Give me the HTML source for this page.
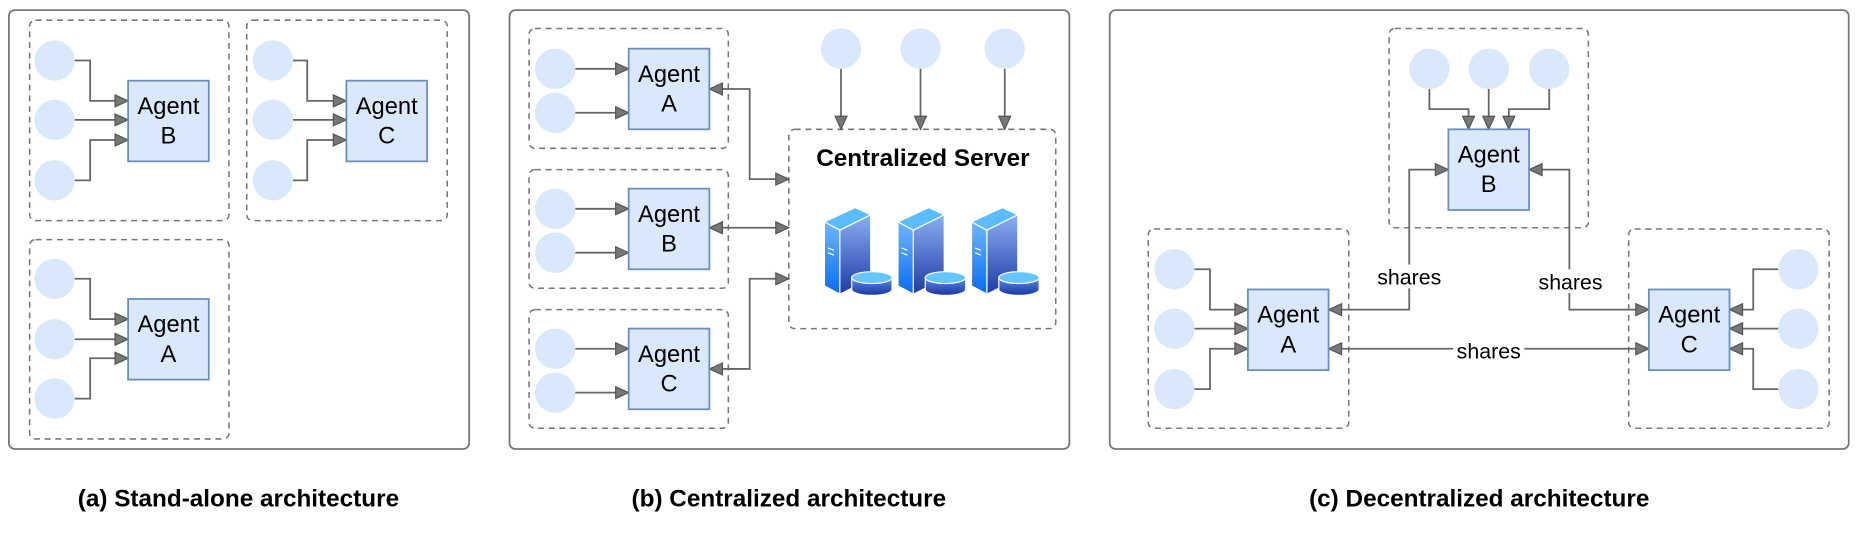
<!DOCTYPE html>
<html><head><meta charset="utf-8"><style>html,body{margin:0;padding:0;background:#fff}svg{display:block}</style></head>
<body>
<svg width="1860" height="538" viewBox="0 0 1568 453.5" xmlns="http://www.w3.org/2000/svg" font-family="Liberation Sans, Arial, sans-serif">
<defs>
<marker id="ah" markerUnits="userSpaceOnUse" markerWidth="14" markerHeight="12" refX="12" refY="6" orient="auto-start-reverse">
<path d="M1,1 L12,6 L1,11 Z" fill="#777" stroke="#555" stroke-width="1"/>
</marker>
<linearGradient id="gf" x1="0" y1="0" x2="0" y2="1"><stop offset="0" stop-color="#6fb6ff"/><stop offset="1" stop-color="#0a6cf0"/></linearGradient>
<linearGradient id="gs" x1="0" y1="0" x2="0" y2="1"><stop offset="0" stop-color="#8ab0f0"/><stop offset="1" stop-color="#1e3aa8"/></linearGradient>
<linearGradient id="gd" x1="0" y1="0" x2="0" y2="1"><stop offset="0" stop-color="#5a8ee8"/><stop offset="1" stop-color="#1b34a0"/></linearGradient>
<g id="srv" stroke="#fff" stroke-width="1">
<polygon points="695,187 708,194 708,248 695,241" fill="url(#gf)"/>
<polygon points="708,194 734,181 734,235 708,248" fill="url(#gs)"/>
<polygon points="695,187 721,175 734,181 708,194" fill="#5bbcff"/>
<line x1="698" y1="209" x2="703" y2="211"/><line x1="698" y1="213" x2="703" y2="215"/>
<path d="M718,234 L718,244 A17,5 0 0 0 752,244 L752,234 Z" fill="url(#gd)"/>
<ellipse cx="735" cy="234" rx="17" ry="5" fill="#66c4ff"/>
</g>
</defs>
<g fill="none" stroke="#777" stroke-width="1.5">
<rect x="7.5" y="8.5" width="388" height="370" rx="5"/>
<rect x="429.5" y="8.5" width="472" height="370" rx="5"/>
<rect x="935.5" y="8.5" width="623" height="370" rx="5"/>
</g>
<g fill="none" stroke="#777" stroke-width="1.3" stroke-dasharray="5,4">
<rect x="25" y="17" width="168" height="169" rx="5"/>
<rect x="208" y="17" width="169" height="169" rx="5"/>
<rect x="25" y="202" width="168" height="168" rx="5"/>
<rect x="446" y="24" width="168" height="101" rx="5"/>
<rect x="446" y="143" width="168" height="100" rx="5"/>
<rect x="446" y="261" width="168" height="100" rx="5"/>
<rect x="665" y="109" width="225" height="168" rx="5"/>
<rect x="1171" y="24" width="168" height="168" rx="5"/>
<rect x="968" y="193" width="169" height="168" rx="5"/>
<rect x="1373" y="193" width="169" height="168" rx="5"/>
</g>
<g fill="#dae8fc">
<circle cx="46" cy="51" r="17"/><circle cx="46" cy="101" r="17"/><circle cx="46" cy="152" r="17"/>
<circle cx="230" cy="51" r="17"/><circle cx="230" cy="101" r="17"/><circle cx="230" cy="152" r="17"/>
<circle cx="46" cy="235" r="17"/><circle cx="46" cy="286" r="17"/><circle cx="46" cy="336" r="17"/>
<circle cx="468" cy="58" r="17"/><circle cx="468" cy="95" r="17"/>
<circle cx="468" cy="176" r="17"/><circle cx="468" cy="213" r="17"/>
<circle cx="468" cy="294" r="17"/><circle cx="468" cy="331" r="17"/>
<circle cx="709" cy="41" r="17"/><circle cx="776" cy="41" r="17"/><circle cx="847" cy="41" r="17"/>
<circle cx="1205" cy="58" r="17"/><circle cx="1255" cy="58" r="17"/><circle cx="1306" cy="58" r="17"/>
<circle cx="990" cy="227" r="17"/><circle cx="990" cy="277" r="17"/><circle cx="990" cy="328" r="17"/>
<circle cx="1516" cy="227" r="17"/><circle cx="1516" cy="277" r="17"/><circle cx="1516" cy="328" r="17"/>
</g>
<g fill="none" stroke="#666" stroke-width="1.5" marker-end="url(#ah)">
<path d="M63,51 H76 V85 H108"/><path d="M63,101 H108"/><path d="M63,152 H76 V118 H108"/>
<path d="M247,51 H259 V85 H292"/><path d="M247,101 H292"/><path d="M247,152 H259 V118 H292"/>
<path d="M63,235 H76 V269 H108"/><path d="M63,286 H108"/><path d="M63,336 H76 V302 H108"/>
<path d="M485,58 H530"/><path d="M485,95 H530"/>
<path d="M485,176 H530"/><path d="M485,213 H530"/>
<path d="M485,294 H530"/><path d="M485,331 H530"/>
<path d="M709,58 V109"/><path d="M776,58 V109"/><path d="M847,58 V109"/>
<path d="M1205,75 V92 H1238 V109"/><path d="M1255,75 V109"/><path d="M1306,75 V92 H1272 V109"/>
<path d="M1007,227 H1020 V261 H1052"/><path d="M1007,277 H1052"/><path d="M1007,328 H1020 V294 H1052"/>
<path d="M1499,227 H1478 V261 H1458"/><path d="M1499,277 H1458"/><path d="M1499,328 H1478 V294 H1458"/>
</g>
<g fill="none" stroke="#666" stroke-width="1.5" marker-end="url(#ah)" marker-start="url(#ah)">
<path d="M598,75 H632 V151 H665"/><path d="M598,192 H665"/><path d="M598,311 H632 V235 H665"/>
<path d="M1120,261 H1188 V143 H1221"/><path d="M1289,143 H1323 V261 H1390"/><path d="M1120,294 H1390"/>
</g>
<g fill="#dae8fc" stroke="#6c8ebf" stroke-width="1.5">
<rect x="108" y="68" width="68" height="68"/><rect x="292" y="68" width="68" height="68"/><rect x="108" y="252" width="68" height="68"/>
<rect x="530" y="41" width="68" height="68"/><rect x="530" y="159" width="68" height="68"/><rect x="530" y="277" width="68" height="68"/>
<rect x="1221" y="109" width="68" height="68"/><rect x="1052" y="244" width="68" height="68"/><rect x="1390" y="244" width="68" height="68"/>
</g>
<g font-size="20" text-anchor="middle" fill="#000">
<text x="142" y="96">Agent</text><text x="142" y="121">B</text>
<text x="326" y="96">Agent</text><text x="326" y="121">C</text>
<text x="142" y="280">Agent</text><text x="142" y="305">A</text>
<text x="564" y="69">Agent</text><text x="564" y="94">A</text>
<text x="564" y="187">Agent</text><text x="564" y="212">B</text>
<text x="564" y="305">Agent</text><text x="564" y="330">C</text>
<text x="1255" y="137">Agent</text><text x="1255" y="162">B</text>
<text x="1086" y="272">Agent</text><text x="1086" y="297">A</text>
<text x="1424" y="272">Agent</text><text x="1424" y="297">C</text>
</g>
<g font-size="18" text-anchor="middle">
<rect x="1158" y="223" width="60" height="20" fill="#fff"/><text x="1188" y="240">shares</text>
<rect x="1293" y="227" width="60" height="20" fill="#fff"/><text x="1324" y="244">shares</text>
<rect x="1225" y="285" width="60" height="20" fill="#fff"/><text x="1255" y="302">shares</text>
</g>
<text x="778" y="140" font-size="20.5" font-weight="bold" text-anchor="middle">Centralized Server</text>
<use href="#srv"/><use href="#srv" x="62"/><use href="#srv" x="124"/>
<g font-size="20.5" font-weight="bold" text-anchor="middle">
<text x="201" y="427">(a) Stand-alone architecture</text>
<text x="665" y="427">(b) Centralized architecture</text>
<text x="1247" y="427">(c) Decentralized architecture</text>
</g>
</svg>
</body></html>
